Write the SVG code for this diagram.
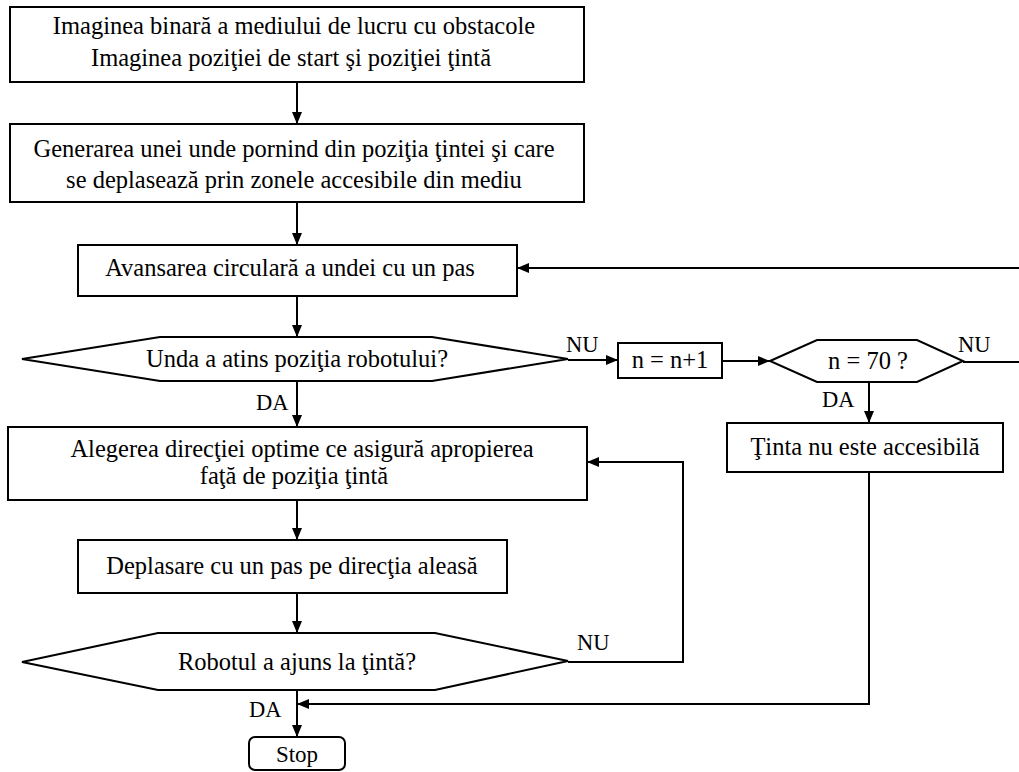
<svg xmlns="http://www.w3.org/2000/svg" width="1019" height="772" viewBox="0 0 1019 772">
  <defs>
    <marker id="arrow" markerUnits="userSpaceOnUse" markerWidth="14" markerHeight="12" refX="12" refY="6" orient="auto">
      <path d="M0,1 L12,6 L0,11 Z" fill="#000"/>
    </marker>
    <style>
      .shape { fill: #fff; stroke: #000; stroke-width: 2; }
      .link { fill: none; stroke: #000; stroke-width: 2; }
      .arrow { marker-end: url(#arrow); }
      .c { text-anchor: middle; }
    </style>
  </defs>
  <rect width="1019" height="772" fill="#fff"/>

  <g font-family="Liberation Serif, DejaVu Serif, serif" font-size="24.5" fill="#000">

  <!-- connectors and their yes/no labels -->
  <g id="connectors">
    <line class="link arrow" x1="297" y1="82" x2="297" y2="124"/>
    <line class="link arrow" x1="297" y1="202" x2="297" y2="245"/>
    <line class="link arrow" x1="1019" y1="268" x2="517" y2="268"/>
    <line class="link arrow" x1="297" y1="296" x2="297" y2="337"/>
    <line class="link arrow" x1="568" y1="360" x2="618" y2="360"/>
    <line class="link arrow" x1="722" y1="361" x2="770" y2="361"/>
    <line class="link" x1="963" y1="362" x2="1019" y2="362"/>
    <line class="link arrow" x1="869" y1="382" x2="869" y2="423"/>
    <line class="link arrow" x1="297" y1="381" x2="297" y2="427"/>
    <line class="link arrow" x1="297" y1="500" x2="297" y2="540"/>
    <polyline class="link arrow" points="568,662 683,662 683,462 587,462"/>
    <line class="link arrow" x1="297" y1="593" x2="297" y2="633"/>
    <polyline class="link arrow" points="869,472 869,704 297,704"/>
    <line class="link arrow" x1="297" y1="690" x2="297" y2="737"/>
    <g font-size="22.5">
      <text x="566" y="352">NU</text>
      <text x="958" y="352">NU</text>
      <text x="822" y="407">DA</text>
      <text x="256" y="410">DA</text>
      <text x="577" y="650">NU</text>
      <text x="249" y="717">DA</text>
    </g>
  </g>

  <g id="input">
    <rect class="shape" x="10" y="7" width="574" height="75"/>
    <text class="c" x="294" y="34">Imaginea binară a mediului de lucru cu obstacole</text>
    <text class="c" x="291" y="66">Imaginea poziţiei de start şi poziţiei ţintă</text>
  </g>

  <g id="wave-generation">
    <rect class="shape" x="10" y="124" width="574" height="78"/>
    <text class="c" x="294" y="157">Generarea unei unde pornind din poziţia ţintei şi care</text>
    <text class="c" x="294" y="188">se deplasează prin zonele accesibile din mediu</text>
  </g>

  <g id="wave-advance">
    <rect class="shape" x="78" y="245" width="439" height="51"/>
    <text class="c" x="290" y="276">Avansarea circulară a undei cu un pas</text>
  </g>

  <g id="wave-reached">
    <polygon class="shape" points="22,359 160,337 432,337 568,359 432,381 160,381"/>
    <text class="c" x="297" y="367">Unda a atins poziţia robotului?</text>
  </g>

  <g id="counter">
    <rect class="shape" x="618" y="343" width="104" height="35"/>
    <text class="c" x="670" y="368">n = n+1</text>
  </g>

  <g id="limit-check">
    <polygon class="shape" points="770,361 817,340 917,340 963,361 917,382 817,382"/>
    <text class="c" x="868" y="369">n = 70 ?</text>
  </g>

  <g id="unreachable">
    <rect class="shape" x="727" y="423" width="276" height="49"/>
    <text class="c" x="865" y="455">Ţinta nu este accesibilă</text>
  </g>

  <g id="choose-direction">
    <rect class="shape" x="8" y="427" width="579" height="73"/>
    <text class="c" x="302" y="457">Alegerea direcţiei optime ce asigură apropierea</text>
    <text class="c" x="294" y="484">faţă de poziţia ţintă</text>
  </g>

  <g id="move-step">
    <rect class="shape" x="78" y="540" width="429" height="53"/>
    <text class="c" x="292" y="574">Deplasare cu un pas pe direcţia aleasă</text>
  </g>

  <g id="target-reached">
    <polygon class="shape" points="22,662 158,633 435,633 568,661 435,690 158,690"/>
    <text class="c" x="297" y="670">Robotul a ajuns la ţintă?</text>
  </g>

  <g id="stop">
    <rect class="shape" x="249" y="737" width="96" height="33" rx="6"/>
    <text class="c" x="297" y="762" font-size="23">Stop</text>
  </g>

  </g>
</svg>
